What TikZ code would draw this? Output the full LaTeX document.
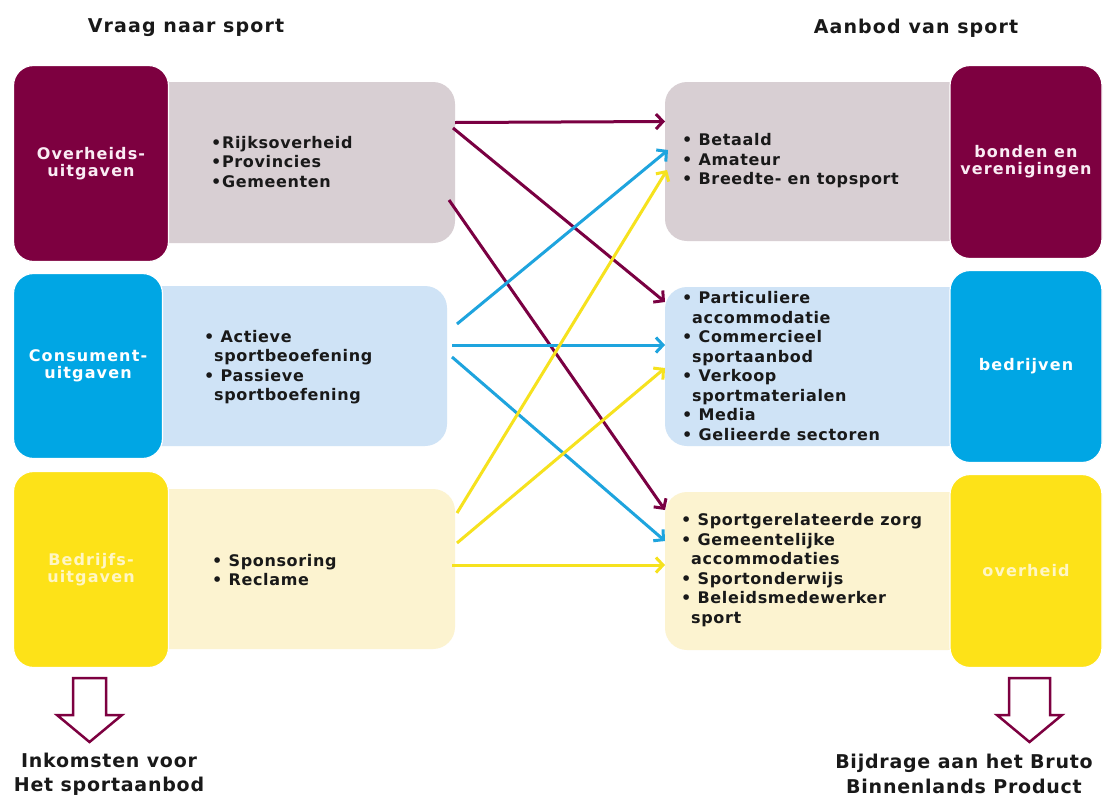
\documentclass[tikz,border=0pt]{standalone}
\usepackage{fontspec}
\setmainfont{DejaVu Sans}
\newfontfamily\listfont{DejaVu Sans}[LetterSpace=4]
\newfontfamily\titlefont{DejaVu Sans}[LetterSpace=6]
\newfontfamily\darkfont{DejaVu Sans}[LetterSpace=7]
\newfontfamily\bottomfont{DejaVu Sans}[LetterSpace=4]
\usetikzlibrary{calc,arrows.meta}
\definecolor{maroonD}{RGB}{125,0,64}
\definecolor{cyanD}{RGB}{0,166,228}
\definecolor{yellowD}{RGB}{253,226,24}
\definecolor{grayL}{RGB}{216,207,211}
\definecolor{blueL}{RGB}{207,227,246}
\definecolor{yellowL}{RGB}{252,243,208}
\definecolor{arrM}{RGB}{122,0,66}
\definecolor{arrC}{RGB}{30,164,222}
\definecolor{arrY}{RGB}{246,226,30}
\definecolor{paleY}{RGB}{255,246,196}
\definecolor{paleW}{RGB}{250,236,244}
\begin{document}
\begin{tikzpicture}[x=1pt,y=-1pt,
  box/.style={rectangle, rounded corners=22pt, inner sep=0pt, outer sep=0pt},
  darkbox/.style={box, rounded corners=20pt, draw=white, line width=1.2pt},
  dtext/.style={font=\darkfont\bfseries\fontsize{16}{17}\selectfont, align=center},
  list/.style={anchor=west, align=left, font=\listfont\bfseries\fontsize{16}{19.5}\selectfont, text=black!90, inner sep=0pt},
  title/.style={font=\titlefont\bfseries\fontsize{19}{20}\selectfont, text=black!90, inner sep=0pt},
  bottomtext/.style={font=\bottomfont\bfseries\fontsize{19}{24.5}\selectfont, text=black!90, align=center, inner sep=0pt},
  conn/.style={line width=3pt, -{Straight Barb[length=7pt,width=15pt]}},
  hollow/.style={draw=maroonD, line width=2.5pt, fill=white, line join=miter}
]
\useasboundingbox[fill=white] (0,0) rectangle (1105,796);

% titles
\node[title] (t1) at (186,28) {Vraag naar sport};
\node[title] (t2) at (916,28) {Aanbod van sport};

% light boxes (left)
\node[box, fill=grayL, minimum width=315pt, minimum height=161pt] (L1) at (297.5,162.5) {};
\node[box, fill=blueL, minimum width=307pt, minimum height=160pt] (L2) at (293.5,366) {};
\node[box, fill=yellowL, minimum width=315pt, minimum height=160pt] (L3) at (297.5,569) {};
% light boxes (right)
\node[box, fill=grayL, minimum width=305pt, minimum height=159pt] (R1) at (817.5,161.5) {};
\node[box, fill=blueL, minimum width=305pt, minimum height=159pt] (R2) at (817.5,366.5) {};
\node[box, fill=yellowL, minimum width=305pt, minimum height=158pt] (R3) at (817.5,571) {};

% dark boxes (left)
\node[darkbox, fill=maroonD, minimum width=155pt, minimum height=196pt, dtext, text=paleW] (D1) at (91,163.5) {Overheids-\\uitgaven};
\node[darkbox, fill=cyanD, minimum width=149pt, minimum height=185pt, dtext, text=white] (D2) at (88,366) {Consument-\\uitgaven};
\node[darkbox, fill=yellowD, minimum width=155pt, minimum height=196pt, dtext, text=paleY] (D3) at (91,569.5) {Bedrijfs-\\uitgaven};
% dark boxes (right)
\node[darkbox, fill=maroonD, minimum width=152pt, minimum height=193pt, dtext, text=paleW] (E1) at (1026,162) {bonden en\\verenigingen};
\node[darkbox, fill=cyanD, minimum width=152pt, minimum height=192pt, dtext, text=white] (E2) at (1026,366.5) {bedrijven};
\node[darkbox, fill=yellowD, minimum width=152pt, minimum height=193pt, dtext, text=paleY] (E3) at (1026,571) {overheid};

% lists
\node[list] (l1) at (211,162) {•Rijksoverheid\\•Provincies\\•Gemeenten};
\node[list] (l2) at (204,367) {• Actieve\\\hspace*{10pt}sportbeoefening\\• Passieve\\\hspace*{10pt}sportboefening};
\node[list] (l3) at (212,570) {• Sponsoring\\• Reclame};
\node[list] (r1) at (682,161) {• Betaald\\• Amateur\\• Breedte- en topsport};
\node[list] (r2) at (682,366) {• Particuliere\\\hspace*{10pt}accommodatie\\• Commercieel\\\hspace*{10pt}sportaanbod\\• Verkoop\\\hspace*{10pt}sportmaterialen\\• Media\\• Gelieerde sectoren};
\node[list] (r3) at (681,570) {• Sportgerelateerde zorg\\• Gemeentelijke\\\hspace*{10pt}accommodaties\\• Sportonderwijs\\• Beleidsmedewerker\\\hspace*{10pt}sport};

% connectors
\draw[conn, arrM] ($(L1.east)+(0,-40)$) -- ($(R1.west)+(0,-40)$);
\draw[conn, arrM] ($(L1.east)+(-2,-34.5)$) -- ($(R2.west)+(0,-64.5)$);
\draw[conn, arrM] ($(L1.east)+(-6,37.5)$) -- ($(R3.west)+(0,-61)$);
\draw[conn, arrC] ($(L2.east)+(10,-42)$) -- ($(R1.west)+(3,-11.5)$);
\draw[conn, arrC] ($(L2.east)+(5,-21)$) -- ($(R2.west)+(0,-21.5)$);
\draw[conn, arrC] ($(L2.east)+(5,-9)$) -- ($(R3.west)+(0,-30)$);
\draw[conn, arrY] ($(L3.east)+(2,-56)$) -- ($(R1.west)+(2,8.5)$);
\draw[conn, arrY] ($(L3.east)+(2,-26)$) -- ($(R2.west)+(0,1.5)$);
\draw[conn, arrY] ($(L3.east)+(-3,-4)$) -- ($(R3.west)+(0,-6)$);

% hollow down arrows
\draw[hollow] (73,678) -- (106,678) -- (106,715) -- (122,715) -- (89.5,742) -- (57,715) -- (73,715) -- cycle;
\draw[hollow] (1009,678) -- (1050,678) -- (1050,715) -- (1062,715) -- (1029.5,742) -- (997,715) -- (1009,715) -- cycle;

% bottom texts
\node[bottomtext] (b1) at (109,774) {Inkomsten voor\\Het sportaanbod};
\node[bottomtext] (b2) at (964,774) {Bijdrage aan het Bruto\\Binnenlands Product};
\end{tikzpicture}
\end{document}
